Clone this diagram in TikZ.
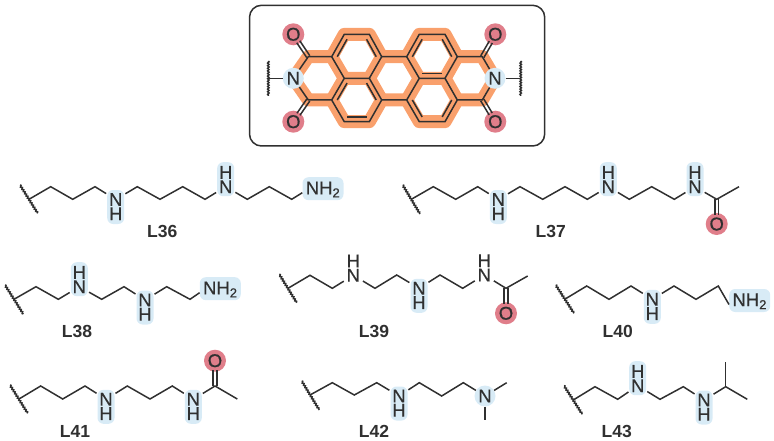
\documentclass[tikz,border=0pt]{standalone}
\usepackage{fontspec}
\setmainfont{Liberation Sans}
\newfontfamily\atomfont[FakeBold=0.5]{Liberation Sans}
\usetikzlibrary{calc,decorations.pathmorphing}
\definecolor{ink}{HTML}{303030}
\definecolor{orng}{HTML}{F9A06C}
\definecolor{redh}{HTML}{E07E8A}
\definecolor{blueh}{HTML}{D8EBF6}
\tikzset{
  bond/.style={draw=ink,line width=1.5pt,line join=miter},
  wallline/.style={draw=ink,line width=1.5pt,decorate,decoration={snake,amplitude=0.7pt,segment length=2.6pt}},
  atom/.style={circle,inner sep=0pt,minimum size=22pt,text=ink,font=\atomfont\fontsize{18.5}{20}\selectfont},
  atomhl/.style={atom,fill=blueh,minimum size=21pt},
  oxy/.style={atom,fill=redh,minimum size=22pt},
  hl/.style={rectangle,rounded corners=6pt,fill=blueh,inner sep=0pt},
  amine/.style={hl,minimum width=41pt,minimum height=23pt,text=ink,text height=13.2pt,text depth=2pt,font=\atomfont\fontsize{18.5}{20}\selectfont},
  lab/.style={inner sep=0pt,text=ink,font=\fontsize{17.5}{20}\selectfont\bfseries},
  frame/.style={draw=ink,line width=1.5pt,rounded corners=12pt},
  glow/.style={draw=orng,line width=13pt,line join=round,line cap=round}
}
\newcommand\defpts[2]{\foreach \p [count=\i] in {#2} {\edef\tmpc{\noexpand\coordinate (#1\i) at \p;}\tmpc}}
% N-H with H below / above, highlighted
\newcommand\nhdown[3]{\node[hl,minimum width=17pt,minimum height=34pt] (#1-bg) at (#2,#3+7.5) {};
  \node[atom] (#1) at (#2,#3) {N}; \node[atom] (#1-h) at (#2,#3+14.3) {H};}
\newcommand\nhup[3]{\node[hl,minimum width=17pt,minimum height=34pt] (#1-bg) at (#2,#3-7.5) {};
  \node[atom] (#1) at (#2,#3) {N}; \node[atom] (#1-h) at (#2,#3-14.3) {H};}
\newcommand\nhupplain[3]{\node[atom] (#1) at (#2,#3) {N}; \node[atom] (#1-h) at (#2,#3-14.3) {H};}
\newcommand\dbl[2]{\draw[bond,shorten >=9pt] ($(#1)!1.8pt!90:(#2.center)$) -- ($(#2.center)!1.8pt!-90:(#1)$);
  \draw[bond,shorten >=9pt] ($(#1)!1.8pt!-90:(#2.center)$) -- ($(#2.center)!1.8pt!90:(#1)$);}
\newcommand\inr[3]{\draw[bond] ($(#1)!0.22!(#3)$) -- ($(#2)!0.22!(#3)$);}
\begin{document}
\begin{tikzpicture}[x=1pt,y=-1pt]
\useasboundingbox (0,0) rectangle (774,441);
% ---------- core ----------
\draw[frame] (249.5,5.3) rectangle (544.7,146);
\defpts{t}{(344.3,34.3),(369.3,34.3),(419.3,34.3),(445,34.3)}
\defpts{u}{(308.3,56.7),(331.7,56.7),(381.7,56.7),(406.7,56.7),(457.3,56.7),(482.3,56.7)}
\defpts{m}{(344.3,78.3),(369.3,78.3),(419.3,78.3),(445,78.3)}
\defpts{l}{(308.3,100),(331.7,100),(381.7,100),(406.7,100),(457.3,100),(482.3,100)}
\defpts{b}{(344.3,121.7),(369.3,121.7),(419.3,121.7),(445,121.7)}
\coordinate (cTL) at (356.8,56.7); \coordinate (cBL) at (356.8,100);
\coordinate (cTR) at (432.2,56.7); \coordinate (cBR) at (432.2,100);
\coordinate (nL) at (293.3,78.3); \coordinate (nR) at (495,78.3);
\draw[glow] (nL)--(u1)--(u2)--(t1)--(t2)--(u3)--(u4)--(t3)--(t4)--(u5)--(u6)--(nR)--(l6)--(l5)--(b4)--(b3)--(l4)--(l3)--(b2)--(b1)--(l2)--(l1)--cycle;
\draw[glow] (u2)--(m1)--(l2) (m1)--(m2)--(u3) (m2)--(l3) (u4)--(m3)--(l4) (m3)--(m4)--(u5) (m4)--(l5);
\node[atomhl] (N1) at (nL) {N};
\node[atomhl] (N2) at (nR) {N};
\node[oxy] (O1) at (293.3,34.3) {O};
\node[oxy] (O2) at (293.3,121.7) {O};
\node[oxy] (O3) at (495.3,34.3) {O};
\node[oxy] (O4) at (495.3,121.7) {O};
\draw[bond] (N1)--(u1)--(u2)--(t1)--(t2)--(u3)--(u4)--(t3)--(t4)--(u5)--(u6)--(N2);
\draw[bond] (N1)--(l1)--(l2)--(b1)--(b2)--(l3)--(l4)--(b3)--(b4)--(l5)--(l6)--(N2);
\draw[bond] (u2)--(m1)--(l2) (m1)--(m2)--(u3) (m2)--(l3) (u4)--(m3)--(l4) (m3)--(m4)--(u5) (m4)--(l5);
\dbl{u1}{O1}\dbl{l1}{O2}\dbl{u6}{O3}\dbl{l6}{O4}
\inr{u2}{t1}{cTL}\inr{t2}{u3}{cTL}
\inr{m1}{l2}{cBL}\inr{m2}{l3}{cBL}\inr{b1}{b2}{cBL}
\inr{u4}{t3}{cTR}\inr{t4}{u5}{cTR}\inr{m3}{m4}{cTR}
\inr{l4}{b3}{cBR}\inr{l5}{b4}{cBR}
\coordinate (wL1) at (268.3,61); \coordinate (wL2) at (268.3,96); \coordinate (wLm) at (268.3,78.3);
\coordinate (wR1) at (520.7,61); \coordinate (wR2) at (520.7,96); \coordinate (wRm) at (520.7,78.3);
\draw[wallline] (wL1)--(wL2); \draw[wallline] (wR1)--(wR2);
\draw[bond] (N1)--(wLm); \draw[bond] (N2)--(wRm);
% ---------- L36 ----------
\coordinate (a1) at (20,185); \coordinate (a2) at (37.7,213.3);
\defpts{aa}{(29,199.3),(50.7,186.7),(72.7,199.3),(95,186.7)}
\nhdown{an1}{115.7}{199.5}
\defpts{ab}{(137.3,186.7),(160,199.3),(182.7,186.7),(205,199.3)}
\nhup{an2}{225.7}{186.7}
\defpts{ac}{(247.3,199.3),(269.3,186.7),(291.7,199.3)}
\node[amine] (an3) at (323,188.7) {NH\textsubscript{2}};
\draw[wallline] (a1)--(a2);
\draw[bond] (aa1)--(aa2)--(aa3)--(aa4)--(an1);
\draw[bond] (an1)--(ab1)--(ab2)--(ab3)--(ab4)--(an2);
\draw[bond] (an2)--(ac1)--(ac2)--(ac3)--(an3.191);
\node[lab] (L36) at (162.3,231) {L36};
% ---------- L37 ----------
\coordinate (c1) at (402.7,185); \coordinate (c2) at (420,214);
\defpts{ca}{(411.3,199.3),(433.3,186.7),(455.7,199.3),(477.7,186.7)}
\nhdown{cn1}{498.3}{199.5}
\defpts{cb}{(520,186.7),(542.7,199.3),(565,186.7),(587.3,199.3)}
\nhup{cn2}{608.3}{186.7}
\defpts{cc}{(629.3,199.3),(651.7,186.7),(674.3,199.3)}
\nhup{cn3}{695}{186.7}
\defpts{cd}{(716.7,199.3),(739,186.7)}
\node[oxy] (co) at (716.7,224) {O};
\draw[wallline] (c1)--(c2);
\draw[bond] (ca1)--(ca2)--(ca3)--(ca4)--(cn1);
\draw[bond] (cn1)--(cb1)--(cb2)--(cb3)--(cb4)--(cn2);
\draw[bond] (cn2)--(cc1)--(cc2)--(cc3)--(cn3);
\draw[bond] (cn3)--(cd1)--(cd2);
\dbl{cd1}{co}
\node[lab] (L37) at (550.7,231) {L37};
% ---------- L38 ----------
\coordinate (d1) at (5,285); \coordinate (d2) at (23.3,314);
\defpts{da}{(14,299.3),(36,286.7),(58.3,299.3)}
\nhup{dn1}{79.3}{286.7}
\defpts{db}{(101.7,299.3),(124,286.7)}
\nhdown{dn2}{145}{300}
\defpts{dc}{(166.7,286.7),(190,299.3)}
\node[amine] (dn3) at (220.3,288.7) {NH\textsubscript{2}};
\draw[wallline] (d1)--(d2);
\draw[bond] (da1)--(da2)--(da3)--(dn1);
\draw[bond] (dn1)--(db1)--(db2)--(dn2);
\draw[bond] (dn2)--(dc1)--(dc2)--(dn3.191);
\node[lab] (L38) at (77,331.7) {L38};
% ---------- L39 ----------
\coordinate (e1) at (279.3,274.3); \coordinate (e2) at (296.7,302.7);
\defpts{ea}{(288,288.3),(310,275.3),(332.3,288.3)}
\nhupplain{en1}{353.3}{275.3}
\defpts{eb}{(375,288.3),(396.7,275)}
\nhdown{en2}{419}{288.3}
\defpts{ec}{(440,275),(462.7,288.3)}
\nhupplain{en3}{484.3}{275}
\defpts{ed}{(506,288.3),(527.7,276)}
\node[oxy] (eo) at (506,313.3) {O};
\draw[wallline] (e1)--(e2);
\draw[bond] (ea1)--(ea2)--(ea3)--(en1);
\draw[bond] (en1)--(eb1)--(eb2)--(en2);
\draw[bond] (en2)--(ec1)--(ec2)--(en3);
\draw[bond] (en3)--(ed1)--(ed2);
\dbl{ed1}{eo}
\node[lab] (L39) at (374,331.7) {L39};
% ---------- L40 ----------
\coordinate (f1) at (555.7,285); \coordinate (f2) at (574,313.3);
\defpts{fa}{(564.7,299.3),(586.7,286),(609,299.3),(631,286)}
\nhdown{fn1}{652.3}{299.3}
\defpts{fb}{(674,286),(696,299.3),(718.3,286)}
\node[amine] (fn2) at (749.7,300.5) {NH\textsubscript{2}};
\draw[wallline] (f1)--(f2);
\draw[bond] (fa1)--(fa2)--(fa3)--(fa4)--(fn1);
\draw[bond] (fn1)--(fb1)--(fb2)--(fb3)--(fn2.191);
\node[lab] (L40) at (617.7,331.7) {L40};
% ---------- L41 ----------
\coordinate (g1) at (10,385); \coordinate (g2) at (27.7,413.3);
\defpts{ga}{(19,399),(40.7,386),(62.7,399),(85,386)}
\nhdown{gn1}{106}{399.3}
\defpts{gb}{(127.3,386),(150,399),(172.3,386)}
\nhdown{gn2}{193.3}{399.3}
\defpts{gc}{(215,386),(237.3,399)}
\node[oxy] (go) at (215,360.7) {O};
\draw[wallline] (g1)--(g2);
\draw[bond] (ga1)--(ga2)--(ga3)--(ga4)--(gn1);
\draw[bond] (gn1)--(gb1)--(gb2)--(gb3)--(gn2);
\draw[bond] (gn2)--(gc1)--(gc2);
\dbl{gc1}{go}
\node[lab] (L41) at (75,431.7) {L41};
% ---------- L42 ----------
\coordinate (h1) at (301.7,381); \coordinate (h2) at (319.3,410);
\defpts{ha}{(310,395),(332.3,382.7),(354.3,395),(376.7,382.7)}
\nhdown{hn1}{399}{396}
\defpts{hb}{(419.3,382.7),(441.7,396),(463.3,382.7)}
\node[atomhl] (hn2) at (485,396) {N};
\coordinate (hm1) at (506.7,382.7); \coordinate (hm2) at (485,420);
\draw[wallline] (h1)--(h2);
\draw[bond] (ha1)--(ha2)--(ha3)--(ha4)--(hn1);
\draw[bond] (hn1)--(hb1)--(hb2)--(hb3)--(hn2);
\draw[bond] (hn2)--(hm1); \draw[bond] (hn2)--(hm2);
\node[lab] (L42) at (374,431.7) {L42};
% ---------- L43 ----------
\coordinate (k1) at (564,385.7); \coordinate (k2) at (582.3,414.3);
\defpts{ka}{(573.3,400),(595,386.7),(617.7,399.3)}
\nhup{kn1}{637.7}{385.7}
\defpts{kb}{(660,399.3),(683.3,386.7)}
\nhdown{kn2}{704}{400}
\defpts{kc}{(725.7,386.7),(747.3,399.3),(725.7,361.7)}
\draw[wallline] (k1)--(k2);
\draw[bond] (ka1)--(ka2)--(ka3)--(kn1);
\draw[bond] (kn1)--(kb1)--(kb2)--(kn2);
\draw[bond] (kn2)--(kc1)--(kc2);
\draw[bond] (kc1)--(kc3);
\node[lab] (L43) at (616.7,431.7) {L43};
\end{tikzpicture}
\end{document}
